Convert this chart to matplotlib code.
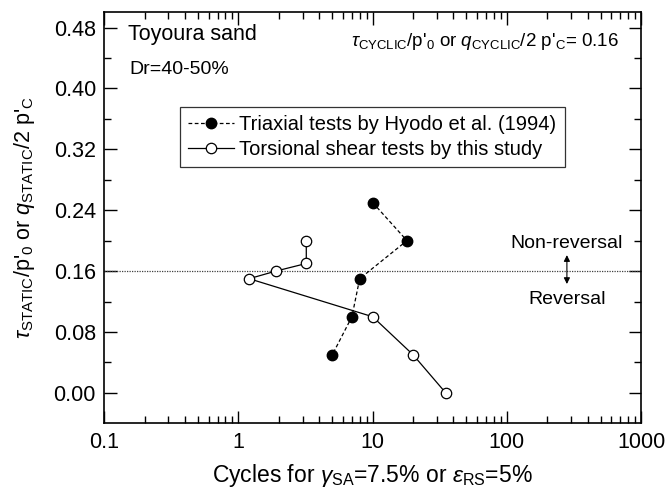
import matplotlib
matplotlib.use('Agg')
import matplotlib.pyplot as plt

# cycles to failure vs static shear ratio
triax_cycles = [10, 18, 8, 7, 5]
triax_ratio  = [0.25, 0.20, 0.15, 0.10, 0.05]

tors_cycles = [3.2, 3.2, 1.9, 1.2, 10, 20, 35]
tors_ratio  = [0.20, 0.17, 0.16, 0.15, 0.10, 0.05, 0.00]

cyclic_ratio = 0.16

plt.rcParams['font.family'] = 'Liberation Sans'
plt.rcParams['mathtext.fontset'] = 'custom'
plt.rcParams['mathtext.rm'] = 'Liberation Sans'
plt.rcParams['mathtext.it'] = 'Liberation Sans:italic'
plt.rcParams['font.size'] = 15.5

fig = plt.figure(figsize=(6.66, 4.93), dpi=100)
ax = fig.add_axes([0.1566, 0.1414, 0.806, 0.8336])

# reversal / non-reversal boundary
ax.axhline(cyclic_ratio, color='0.25', linestyle=(0, (1, 1)), linewidth=0.9)

ax.plot(triax_cycles, triax_ratio, color='black', linestyle='--', linewidth=0.9,
        dashes=(3, 2), marker='o', markersize=7.5, markerfacecolor='black',
        label='Triaxial tests by Hyodo et al. (1994)')
ax.plot(tors_cycles, tors_ratio, color='black', linestyle='-', linewidth=0.9,
        marker='o', markersize=7.5, markerfacecolor='white', markeredgewidth=0.9,
        label='Torsional shear tests by this study')

ax.set_xscale('log')
ax.set_xlim(0.1, 1000)
ax.set_ylim(-0.04, 0.5)
ax.set_xticks([0.1, 1, 10, 100, 1000])
ax.set_xticklabels(['0.1', '1', '10', '100', '1000'])
ax.set_yticks([0.0, 0.08, 0.16, 0.24, 0.32, 0.40, 0.48])
ax.set_yticklabels(['0.00', '0.08', '0.16', '0.24', '0.32', '0.40', '0.48'])
ax.set_yticks([0.04, 0.12, 0.20, 0.28, 0.36, 0.44], minor=True)

ax.tick_params(which='both', direction='in', top=True, right=True, width=1.0)
ax.tick_params(which='major', length=9, pad=6)
ax.tick_params(which='minor', length=5)
for s in ax.spines.values():
    s.set_linewidth(1.2)

ax.set_xlabel(r"Cycles for $\gamma_{\rm SA}$=7.5% or $\varepsilon_{\rm RS}$=5%",
              fontsize=16.5, labelpad=7)
ax.set_ylabel(r"$\tau_{\rm STATIC}$/p'$_0$ or $q_{\rm STATIC}$/2 p'$_{\rm C}$", labelpad=12)

ax.text(0.044, 0.945, 'Toyoura sand', transform=ax.transAxes, ha='left', va='center')
ax.text(0.047, 0.862, 'Dr=40-50%', transform=ax.transAxes, ha='left', va='center', fontsize=14)
ax.text(0.959, 0.928, r"$\tau_{\rm CYCLIC}$/p'$_0$ or $q_{\rm CYCLIC}$/2 p'$_{\rm C}$= 0.16",
        transform=ax.transAxes, ha='right', va='center', fontsize=13.5)

ax.text(280, 0.196, 'Non-reversal', ha='center', va='center', fontsize=14)
ax.text(280, 0.123, 'Reversal', ha='center', va='center', fontsize=14)
ax.annotate('', xy=(280, 0.181), xytext=(280, 0.143),
            arrowprops=dict(arrowstyle='<|-|>', color='black', lw=0.8,
                            mutation_scale=9, shrinkA=0, shrinkB=0))

leg = ax.legend(loc='upper left', bbox_to_anchor=(0.141, 0.770), borderaxespad=0,
                fancybox=False, edgecolor='black', handlelength=2.3,
                handletextpad=0.25, borderpad=0.4, labelspacing=0.3, fontsize=14.5)
leg.get_frame().set_linewidth(0.9)

fig.savefig('out.png', dpi=100)
